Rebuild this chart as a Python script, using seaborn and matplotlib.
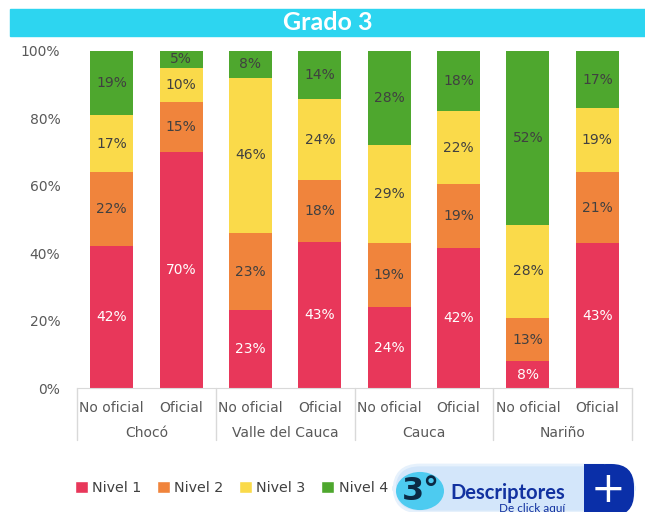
import numpy as np
import pandas as pd
import matplotlib.pyplot as plt
import seaborn as sns
from matplotlib.patches import Rectangle, FancyBboxPatch, Circle, Patch
import matplotlib.transforms as mtransforms

departamentos = ["Chocó", "Valle del Cauca", "Cauca", "Nariño"]
sectores = ["No oficial", "Oficial"]
niveles = ["Nivel 1", "Nivel 2", "Nivel 3", "Nivel 4"]

nivel1 = [42, 70, 23, 43, 24, 42, 8, 43]
nivel2 = [22, 15, 23, 18, 19, 19, 13, 21]
nivel3 = [17, 10, 46, 24, 29, 22, 28, 19]
nivel4 = [19, 5, 8, 14, 28, 18, 52, 17]

colores = ["#E8375A", "#F0843C", "#FADA4A", "#4EA72E"]

barras = [f"{d}|{s}" for d in departamentos for s in sectores]
df = pd.DataFrame({"barra": barras, "Nivel 1": nivel1, "Nivel 2": nivel2,
                   "Nivel 3": nivel3, "Nivel 4": nivel4})
total = df[niveles].sum(axis=1)
pct = df[niveles].div(total, axis=0) * 100
cum = pct.cumsum(axis=1)

sns.set_style("white")
plt.rcParams["font.family"] = ["DejaVu Sans"]

fig = plt.figure(figsize=(6.45, 5.12), dpi=100)
ax = fig.add_axes([77 / 645, 1 - 388 / 512, 555 / 645, 337 / 512])

# stacked bars drawn as overlapping cumulative bars, top level first
for nivel, color in reversed(list(zip(niveles, colores))):
    sns.barplot(x=df["barra"], y=cum[nivel], order=barras, color=color,
                width=0.62, saturation=1, linewidth=0, ax=ax)

for i in range(len(barras)):
    for j, nivel in enumerate(niveles):
        mid = cum[nivel][i] - pct[nivel][i] / 2
        ax.text(i, mid, f"{df[nivel][i]}%", ha="center", va="center",
                fontsize=10, color="white" if j == 0 else "#404040")

ax.set_ylim(0, 100)
ax.set_xlim(-0.5, 7.5)
ax.set_yticks(range(0, 101, 20))
ax.set_yticklabels([f"{v}%" for v in range(0, 101, 20)], fontsize=10, color="#595959")
ax.set_xticks(range(len(barras)))
ax.set_xticklabels([b.split("|")[1] for b in barras], fontsize=10, color="#595959")
ax.tick_params(axis="x", length=0, pad=9)
ax.tick_params(axis="y", length=0, pad=12)
ax.set_xlabel("")
ax.set_ylabel("")
for s in ["top", "right", "left"]:
    ax.spines[s].set_visible(False)
ax.spines["bottom"].set_color("#D9D9D9")

trans = mtransforms.blended_transform_factory(ax.transData, ax.transAxes)
for x in [-0.5, 1.5, 3.5, 5.5, 7.5]:
    ax.plot([x, x], [0, -0.155], transform=trans, color="#D9D9D9", lw=1, clip_on=False)
for k, d in enumerate(departamentos):
    ax.text(2 * k + 0.5, -0.133, d, transform=trans, ha="center", va="center",
            fontsize=10, color="#595959")

# title band
fig.patches.append(Rectangle((10 / 645, 1 - 36 / 512), 1 - 10 / 645, 27 / 512,
                             transform=fig.transFigure, color="#2DD5F0", zorder=0))
fig.text(328 / 645, 1 - 23 / 512, "Grado 3", ha="center", va="center", color="white",
         fontsize=18, fontweight="bold", family=["Lato", "DejaVu Sans"])

# legend
handles = [Patch(facecolor=c, label=n) for n, c in zip(niveles, colores)]
fig.legend(handles=handles, loc="center left", bbox_to_anchor=(62 / 645, 1 - 488 / 512),
           ncol=4, frameon=False, fontsize=10.3, handlelength=0.9, handleheight=0.9,
           handletextpad=0.3, columnspacing=1.1, labelcolor="#404040")

# "Descriptores" button
fig.patches.append(FancyBboxPatch((394 / 645, 1 - 512 / 512), 240 / 645, 47 / 512,
                                  boxstyle="round,pad=0,rounding_size=0.04",
                                  transform=fig.transFigure, fc="#D3E6FA", ec="#E6F1FC",
                                  lw=2, zorder=1, mutation_aspect=645 / 512))
fig.patches.append(FancyBboxPatch((584 / 645, 1 - 516 / 512), 50 / 645, 52 / 512,
                                  boxstyle="round,pad=0,rounding_size=0.035",
                                  transform=fig.transFigure, fc="#0A2FA8", ec="none",
                                  zorder=2, mutation_aspect=645 / 512))
fig.patches.append(Rectangle((584 / 645, 0), 20 / 645, 48 / 512, transform=fig.transFigure,
                             fc="#0A2FA8", ec="none", zorder=2))
fig.patches.append(Circle((420 / 645, 1 - 491 / 512), 24 / 645, transform=fig.transFigure,
                          fc="#4DCBF0", ec="none", zorder=3))
fig.text(421 / 645, 1 - 491 / 512, "3°", ha="center", va="center",
         fontsize=23, fontweight="bold", color="#0B2A45")
fig.text(508 / 645, 1 - 493 / 512, "Descriptores", ha="center", va="center",
         fontsize=14.5, fontweight="bold", color="#1232A0", family=["Lato", "DejaVu Sans"])
fig.text(532 / 645, 1 - 508 / 512, "De click aquí", ha="center", va="center",
         fontsize=8.5, color="#1232A0", family=["Lato", "DejaVu Sans"])
fig.text(608 / 645, 1 - 490 / 512, "+", ha="center", va="center",
         fontsize=30, color="white")

fig.savefig("out.png", dpi=100)
